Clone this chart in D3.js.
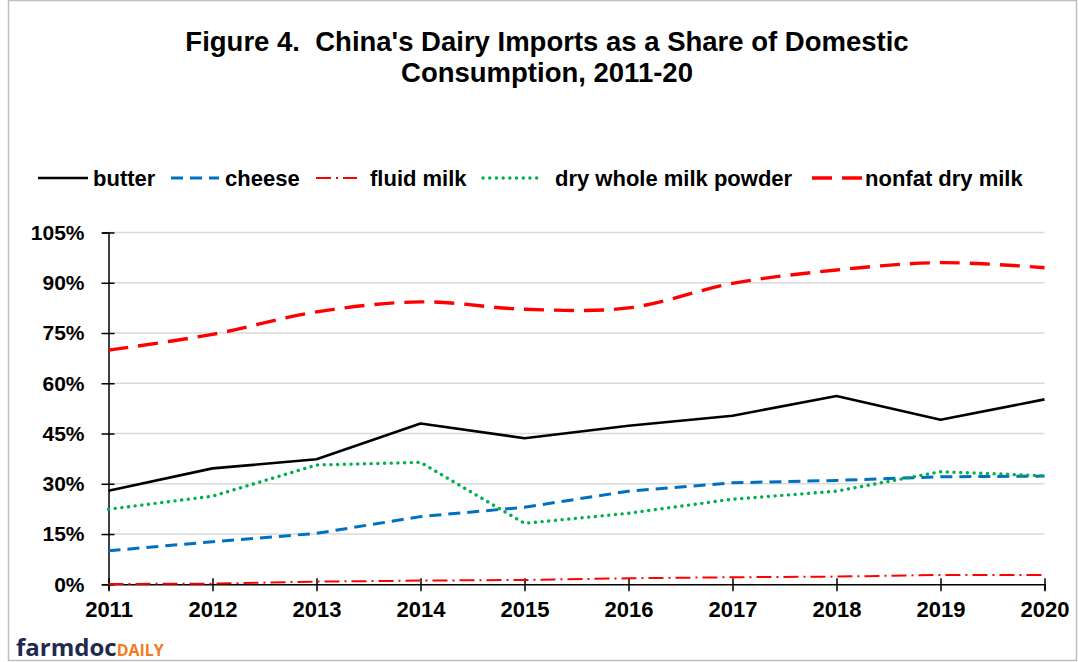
<!DOCTYPE html>
<html>
<head>
<meta charset="utf-8">
<script src="https://cdn.jsdelivr.net/npm/d3@7"></script>
<style>
  html, body { margin: 0; padding: 0; background: #fff; }
  svg { display: block; font-family: "Liberation Sans", Arial, sans-serif; }
</style>
</head>
<body>
<svg id="chart" width="1078" height="662"></svg>
<script>
// China's dairy imports as a share of domestic consumption (%)
const years = [2011, 2012, 2013, 2014, 2015, 2016, 2017, 2018, 2019, 2020];
const butter = [27.9, 34.6, 37.3, 48.0, 43.6, 47.3, 50.3, 56.2, 49.1, 55.2];
const cheese = [10.0, 12.7, 15.2, 20.2, 23.0, 27.8, 30.3, 31.0, 32.1, 32.3];
const fluidMilk = [0.1, 0.2, 0.8, 1.1, 1.3, 1.8, 2.1, 2.3, 2.8, 2.8];
const dryWholeMilkPowder = [22.4, 26.3, 35.6, 36.4, 18.2, 21.2, 25.4, 27.8, 33.6, 32.4];
const nonfatDryMilk = [69.9, 74.6, 81.3, 84.3, 82.1, 82.5, 89.8, 93.8, 96.0, 94.5];
const yTicks = [0, 15, 30, 45, 60, 75, 90, 105];
const seriesNames = ["butter", "cheese", "fluid milk", "dry whole milk powder", "nonfat dry milk"];

const series = [
  { name: seriesNames[0], values: butter, color: "#000000", width: 2.6, dash: null, cap: "butt", smooth: false },
  { name: seriesNames[1], values: cheese, color: "#0070c0", width: 3, dash: "12,7", cap: "butt", smooth: false },
  { name: seriesNames[2], values: fluidMilk, color: "#ff0000", width: 2, dash: "15,5,2,5", cap: "butt", smooth: false },
  { name: seriesNames[3], values: dryWholeMilkPowder, color: "#00b050", width: 3.4, dash: "0.1,6.6", cap: "round", smooth: false },
  { name: seriesNames[4], values: nonfatDryMilk, color: "#ff0000", width: 3.4, dash: "20,10", cap: "butt", smooth: true }
];

const svg = d3.select("#chart");
const W = 1078, H = 662;

// outer frame
svg.append("rect")
  .attr("x", 8.5).attr("y", 0.5).attr("width", W - 10).attr("height", H - 2)
  .attr("fill", "#fff").attr("stroke", "#bfbfbf").attr("stroke-width", 1.5);

// title
const title = svg.append("text")
  .attr("text-anchor", "middle")
  .attr("xml:space", "preserve")
  .style("white-space", "pre")
  .attr("font-size", 27.5).attr("font-weight", "bold").attr("fill", "#000");
title.append("tspan").attr("x", 547).attr("y", 51).text("Figure 4.  China's Dairy Imports as a Share of Domestic");
title.append("tspan").attr("x", 547).attr("y", 82).text("Consumption, 2011-20");

const x = d3.scalePoint().domain(years).range([108.5, 1044.5]);
const y = d3.scaleLinear().domain([0, 105]).range([584.3, 232.5]);

// gridlines
svg.append("g").selectAll("line")
  .data(yTicks.filter(t => t > 0))
  .join("line")
  .attr("x1", 108.5).attr("x2", 1044.5)
  .attr("y1", d => y(d)).attr("y2", d => y(d))
  .attr("stroke", "#d9d9d9").attr("stroke-width", 1.5);

// y axis
const yAxis = svg.append("g")
  .attr("transform", "translate(108.5,0)")
  .call(d3.axisLeft(y).tickValues(yTicks).tickFormat(d => d + "%").tickSize(6).tickPadding(18));
yAxis.select(".domain").attr("stroke", "#000").attr("stroke-width", 1.5);
yAxis.selectAll(".tick line").attr("stroke", "#000").attr("stroke-width", 1.5).attr("x2", 6).attr("x1", -7);
yAxis.selectAll(".tick text")
  .attr("font-size", 21).attr("font-weight", "bold").attr("fill", "#000")
  .attr("font-family", "Liberation Sans, Arial, sans-serif");

// x axis
const xAxis = svg.append("g")
  .attr("transform", `translate(0,${y(0)})`)
  .call(d3.axisBottom(x).tickSize(6).tickPadding(11));
xAxis.select(".domain").attr("stroke", "#000").attr("stroke-width", 1.5);
xAxis.selectAll(".tick line").attr("stroke", "#000").attr("stroke-width", 1.5).attr("y1", -6).attr("y2", 7);
xAxis.selectAll(".tick text")
  .attr("font-size", 22).attr("font-weight", "bold").attr("fill", "#000")
  .attr("font-family", "Liberation Sans, Arial, sans-serif");

// series lines
const lineStraight = d3.line().x((d, i) => x(years[i])).y(d => y(d));
const lineSmooth = d3.line().x((d, i) => x(years[i])).y(d => y(d)).curve(d3.curveCatmullRom.alpha(0.5));

svg.append("g").selectAll("path")
  .data(series)
  .join("path")
  .attr("d", s => (s.smooth ? lineSmooth : lineStraight)(s.values))
  .attr("fill", "none")
  .attr("stroke", s => s.color)
  .attr("stroke-width", s => s.width)
  .attr("stroke-dasharray", s => s.dash)
  .attr("stroke-linecap", s => s.cap)
  .attr("stroke-linejoin", "round");

// legend
const legendItems = [
  { s: series[0], x0: 38, x1: 88, tx: 93 },
  { s: series[1], x0: 171, x1: 219, tx: 225 },
  { s: series[2], x0: 316, x1: 357, tx: 370 },
  { s: series[3], x0: 483, x1: 543, tx: 555 },
  { s: series[4], x0: 812, x1: 862, tx: 865 }
];
const legend = svg.append("g");
legendItems.forEach(it => {
  legend.append("line")
    .attr("x1", it.x0).attr("x2", it.x1).attr("y1", 178).attr("y2", 178)
    .attr("stroke", it.s.color).attr("stroke-width", it.s.width)
    .attr("stroke-dasharray", it.s.dash).attr("stroke-linecap", it.s.cap);
  legend.append("text")
    .attr("x", it.tx).attr("y", 186)
    .attr("font-size", 22).attr("font-weight", "bold").attr("fill", "#000")
    .text(it.s.name);
});

// logo
const logo = svg.append("text").attr("x", 16).attr("y", 656).attr("font-family", "Open Sans, sans-serif").attr("font-weight", "bold");
logo.append("tspan").attr("font-size", 24).attr("fill", "#1f2a4f").text("farmdoc");
logo.append("tspan").attr("font-size", 16).attr("fill", "#f47b20").text("DAILY");
</script>
</body>
</html>
